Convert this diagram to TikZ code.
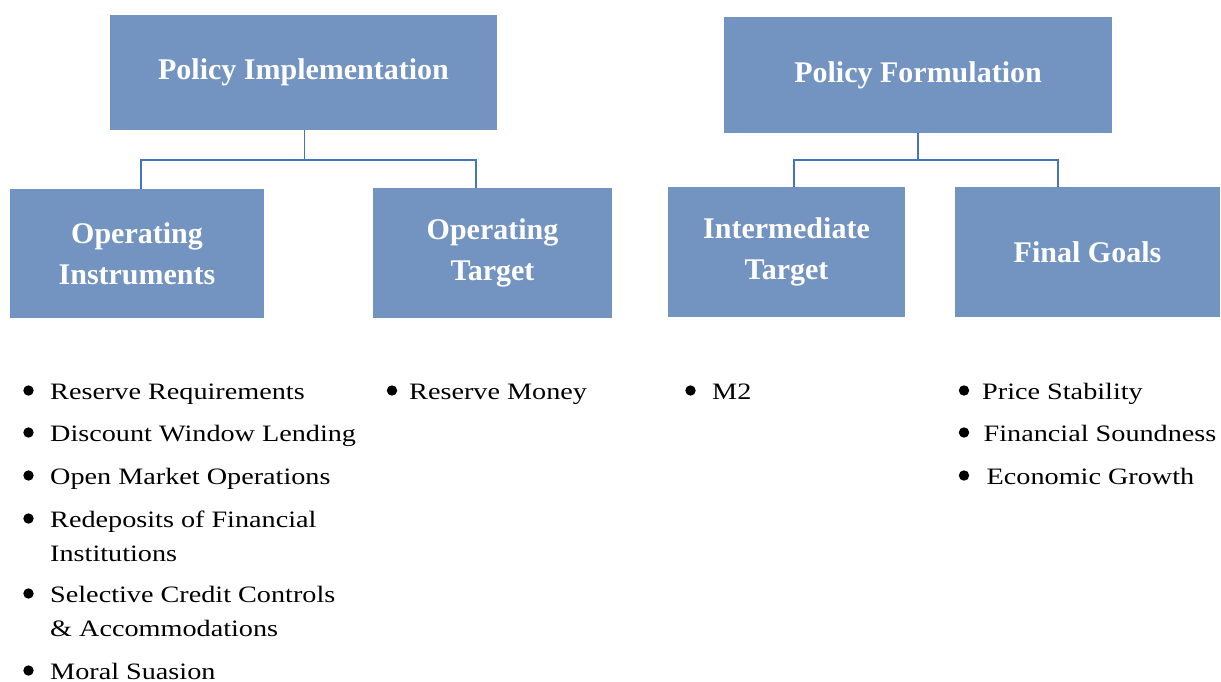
\documentclass[tikz,border=0pt]{standalone}
\usepackage{fontspec}
\setmainfont{Liberation Serif}
\newfontfamily\listfont{Liberation Serif}[FakeStretch=1.2]
\usepackage{tikz}
\definecolor{boxblue}{RGB}{115,147,192}
\definecolor{linkblue}{RGB}{68,114,196}
\tikzset{
  stagebox/.style={fill=boxblue,text=white,inner sep=0,align=center,
    font=\fontsize{30}{41}\selectfont\bfseries},
  link/.style={draw=linkblue,line width=1.4pt},
  itemtext/.style={anchor=base west,inner sep=0,align=left,
    font=\listfont\fontsize{23.5}{34}\selectfont}
}

\begin{document}
\begin{tikzpicture}[x=1pt,y=-1pt]
  \useasboundingbox (0,0) rectangle (1221,682);
  % upper level
  \node[stagebox,minimum width=387pt,minimum height=115pt]
        (pimpl) at (303.5,72.5) {Policy Implementation};
  \node[stagebox,minimum width=388pt,minimum height=116pt]
        (pform) at (918,75) {Policy Formulation};
  % lower level
  \node[stagebox,minimum width=254pt,minimum height=129pt]
        (opinst) at (137,253.5) {Operating\\Instruments};
  \node[stagebox,minimum width=239pt,minimum height=130pt]
        (optarg) at (492.5,253) {Operating\\Target};
  \node[stagebox,minimum width=237pt,minimum height=130pt]
        (interm) at (786.5,252) {Intermediate\\Target};
  \node[stagebox,minimum width=265pt,minimum height=130pt]
        (goals) at (1087.5,252) {Final Goals};
  % links
  \draw[link] ([xshift=1pt]pimpl.south) -- ++(0,30) -| ([xshift=4pt]opinst.north);
  \draw[link] ([xshift=1pt]pimpl.south) -- ++(0,30) -| ([xshift=-16.5pt]optarg.north);
  \draw[link] (pform.south) -- ++(0,27) -| ([xshift=7.5pt]interm.north);
  \draw[link] (pform.south) -- ++(0,27) -| ([xshift=-29.5pt]goals.north);
  % bullet lists (\by = first baseline, \ly = last baseline)
  \foreach \nm/\bx/\tx/\by/\ly/\txt in {
      oi1/28.5/50/399/399/Reserve Requirements,
      oi2/28.5/50/441/441/Discount Window Lending,
      oi3/28.5/50/484/484/Open Market Operations,
      oi4/28.5/50/527/561/{Redeposits of Financial\\Institutions},
      oi5/28.5/50/602/636/{Selective Credit Controls\\\& Accommodations},
      oi6/28.5/50/679/679/Moral Suasion,
      ot1/392/409/399/399/Reserve Money,
      it1/690.5/712/399/399/M2,
      fg1/964/982/399/399/Price Stability,
      fg2/964/983.5/441/441/Financial Soundness,
      fg3/964/986.5/484/484/Economic Growth}{%
    \fill (\bx,\by-8.5) circle (5.2pt);
    \node[itemtext] (\nm) at (\tx,\ly) {\txt};
  }
\end{tikzpicture}
\end{document}
